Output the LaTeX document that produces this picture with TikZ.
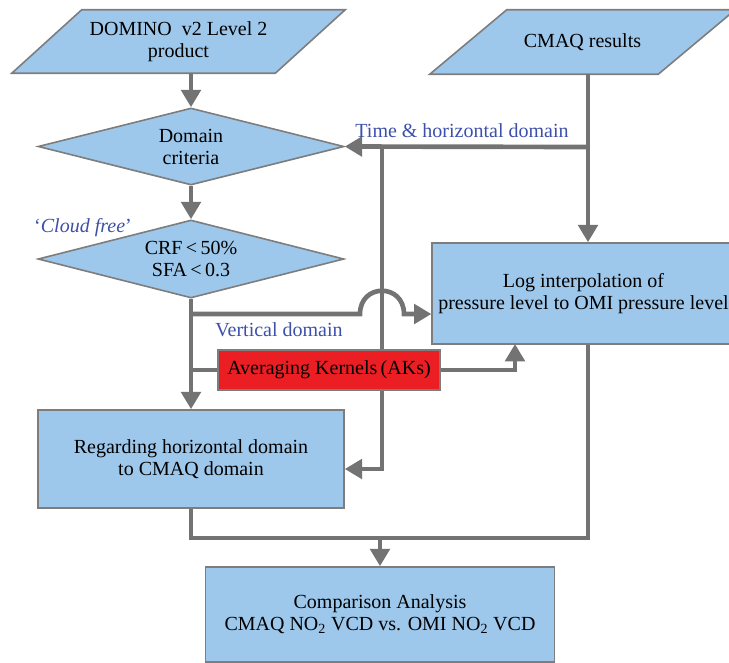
\documentclass[tikz,border=0pt]{standalone}
\usepackage{fontspec}
\setmainfont{Liberation Serif}
\usetikzlibrary{positioning, arrows.meta, shapes.geometric, backgrounds}
\definecolor{boxblue}{RGB}{157,200,235}
\definecolor{edgegray}{RGB}{125,125,125}
\definecolor{flowgray}{RGB}{115,115,115}
\definecolor{akred}{RGB}{235,30,36}
\definecolor{lblblue}{RGB}{60,80,170}

\begin{document}
\begin{tikzpicture}[x=0.75pt, y=-0.75pt]
    \tikzstyle{every node}=[font=\fontsize{15}{16.5}\selectfont]
    \tikzset{
      iobox/.style={draw=edgegray, line width=1.2pt, fill=boxblue},
      io/.style={rectangle, align=center},
      cond/.style={draw=edgegray, line width=1.2pt, fill=boxblue, diamond, aspect=4, inner sep=0pt, align=center},
      proc/.style={draw=edgegray, line width=1.2pt, fill=boxblue, rectangle, align=center},
      kern/.style={draw=edgegray, line width=1.2pt, fill=akred, rectangle},
      lbl/.style={text=lblblue},
      conn/.style={draw=flowgray, line width=3.5pt},
      flow/.style={conn, -{Triangle[length=13pt, width=14.5pt]}}
    }
    \useasboundingbox (0,0) rectangle (729,662);

    \node[io, minimum width=197.25pt, minimum height=47.25pt] (domino) at (178.5,41.5) {DOMINO\ \ v2 Level 2\\product};
    \node[io, minimum width=171pt, minimum height=48pt] (cmaq) at (582.5,42) {CMAQ results};

    \node[cond, minimum width=229.5pt, minimum height=57.75pt] (crit1) at (191,146.5) {Domain\\criteria};
    \node[cond, minimum width=229.5pt, minimum height=58.5pt]  (crit2) at (191,259) {CRF\,<\,50\%\\SFA\,<\,0.3};

    \node[proc, minimum width=227pt, minimum height=75.75pt]  (log)  at (583.5,293.5) {Log interpolation of\\pressure level to OMI pressure level};
    \node[kern, minimum width=166.5pt, minimum height=30pt]   (ak)   at (329,370) {Averaging Kernels\,(AKs)};
    \node[proc, minimum width=229.5pt, minimum height=73.5pt] (reg)  at (191,459) {Regarding horizontal domain\\to CMAQ domain};
    \node[proc, minimum width=262pt, minimum height=71.25pt]  (comp) at (380,614.5) {Comparison Analysis\\CMAQ NO\textsubscript{2} VCD vs. OMI NO\textsubscript{2} VCD};

    \node[lbl] (cflbl) at (83,228) {`\textit{Cloud free}'};
    \node[lbl] (tlbl)  at (462,131) {Time \& horizontal domain};
    \node[lbl] (vlbl)  at (279,330) {Vertical domain};

    % junctions
    \coordinate (cm)   at (588,147);
    \coordinate (tj)   at (382,147);
    \coordinate (rj)   at (382,469);
    \coordinate (vj)   at (191,314);
    \coordinate (hop1) at (360,314);
    \coordinate (hop2) at (404,314);
    \coordinate (lk)   at (515,344);
    \coordinate (mj)   at (380,538);

    \begin{pgfonlayer}{background}
    % slanted input boxes
    \path[iobox] ([xshift=-26.25pt]domino.south west) -- ([xshift=26.25pt]domino.north west)
        -- ([xshift=26.25pt]domino.north east) -- ([xshift=-26.25pt]domino.south east) -- cycle;
    \path[iobox] ([xshift=-28.9pt]cmaq.south west) -- ([xshift=28.9pt]cmaq.north west)
        -- ([xshift=28.9pt]cmaq.north east) -- ([xshift=-28.9pt]cmaq.south east) -- cycle;

    \draw[flow] (domino.south -| crit1.north) -- (crit1.north);
    \draw[flow] (crit1) -- (crit2);
    \draw[flow] (cmaq.south -| cm) -- (log.north -| cm);
    \draw[flow] (cm) -- (crit1.east);
    \draw[flow] (tj) -- (rj) -- (reg.east |- rj);
    \draw[flow] (crit2) -- (reg);
    \draw[flow] (vj) -- (hop1) .. controls +(0,-31) and +(0,-31) .. (hop2) -- (log.west |- vj);
    \draw[conn] (ak.west) -- (ak.west -| vj);
    \draw[flow] (ak.east) -| (lk);
    \draw[conn] (reg.south) |- (mj) -| (log.south -| cm);
    \draw[flow] (mj) -- (comp.north);
    \end{pgfonlayer}
\end{tikzpicture}
\end{document}
